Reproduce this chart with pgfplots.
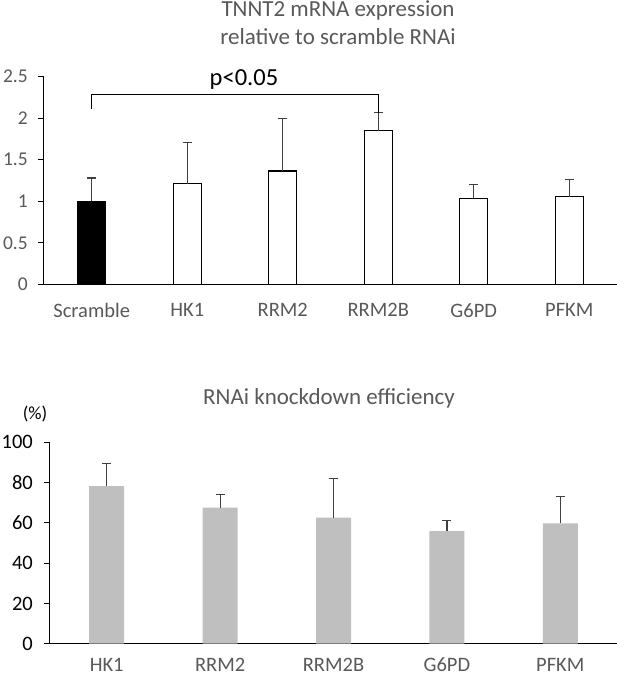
\documentclass[border=0pt]{standalone}
\usepackage{fontspec}
\setmainfont{Carlito}
\usepackage{pgfplots}
\pgfplotsset{compat=1.18}
\definecolor{tgrey}{HTML}{595959}
\definecolor{egrey}{HTML}{404040}
\definecolor{bgrey}{HTML}{BFBFBF}
\begin{document}
\begin{tikzpicture}[x=1pt,y=1pt]
% ---------- top chart ----------
\begin{axis}[
  at={(44pt,392.7pt)}, anchor=south west,
  scale only axis, width=573pt, height=207.6pt,
  xmin=-0.5, xmax=5.5, ymin=0, ymax=2.5,
  axis x line*=bottom, axis y line*=left,
  x axis line style={black, line width=1.5pt, -},
  y axis line style={black, line width=1pt, -},
  xtick={0,...,5}, xticklabels={Scramble,HK1,RRM2,RRM2B,G6PD,PFKM},
  x tick style={draw=none},
  ytick={0,0.5,1,1.5,2,2.5}, yticklabels={0,0.5,1,1.5,2,2.5},
  y tick style={black, line width=1pt},
  tick align=outside, major tick length=6pt,
  yticklabel style={tgrey, font=\fontsize{19.5}{19.5}\selectfont, inner sep=0pt, anchor=east, xshift=-10pt},
  xticklabel style={tgrey, font=\fontsize{20.5}{20.5}\selectfont, inner sep=0pt, anchor=center, yshift=-20pt},
  /pgf/number format/assume math mode=true,
  clip=false,
]
\addplot[ybar, bar width=28pt, bar shift=0pt, fill=black, draw=black, line width=1.3pt,
  error bars/.cd, y dir=plus, y explicit,
  error bar style={egrey, line width=1.2pt},
  error mark options={rotate=90, mark size=4.5pt, egrey, line width=1.2pt}]
  coordinates {(0,1.00) +- (0,0.28)};
\addplot[ybar, bar width=28pt, bar shift=0pt, fill=white, draw=black, line width=1.3pt,
  error bars/.cd, y dir=plus, y explicit,
  error bar style={egrey, line width=1.2pt},
  error mark options={rotate=90, mark size=4.5pt, egrey, line width=1.2pt}]
  coordinates {(1,1.21) +- (0,0.50) (2,1.365) +- (0,0.635) (3,1.85) +- (0,0.22) (4,1.035) +- (0,0.165) (5,1.055) +- (0,0.205)};
\draw[black, line width=1pt] (axis cs:0,2.11) -- (axis cs:0,2.28) -- (axis cs:3,2.28) -- (axis cs:3,2.06);
\node[black, font=\fontsize{24.5}{24.5}\selectfont] at (axis cs:1.594,2.47) {p<0.05};
\end{axis}
% ---------- bottom chart ----------
\begin{axis}[
  at={(50pt,33.3pt)}, anchor=south west,
  scale only axis, width=567pt, height=201.4pt,
  xmin=-0.5, xmax=4.5, ymin=0, ymax=100,
  axis x line*=bottom, axis y line*=left,
  x axis line style={black, line width=1.5pt, -},
  y axis line style={black, line width=1pt, -},
  xtick={0,...,4}, xticklabels={HK1,RRM2,RRM2B,G6PD,PFKM},
  x tick style={draw=none},
  ytick={0,20,40,60,80,100},
  y tick style={black, line width=1pt},
  tick align=outside, major tick length=6pt,
  yticklabel style={black, font=\fontsize{20.5}{20.5}\selectfont, inner sep=0pt, anchor=east, xshift=-11pt},
  xticklabel style={tgrey, font=\fontsize{20.5}{20.5}\selectfont, inner sep=0pt, anchor=center, yshift=-15pt},
  /pgf/number format/assume math mode=true,
  clip=false,
]
\addplot[ybar, bar width=35pt, bar shift=0pt, fill=bgrey, draw=none,
  error bars/.cd, y dir=plus, y explicit,
  error bar style={egrey, line width=1.2pt},
  error mark options={rotate=90, mark size=4.5pt, egrey, line width=1.2pt}]
  coordinates {(0,78.3) +- (0,11.2) (1,67.6) +- (0,6.4) (2,62.6) +- (0,19.6) (3,55.9) +- (0,5.4) (4,59.8) +- (0,13.2)};
\end{axis}
% ---------- titles ----------
\node[tgrey, font=\fontsize{23}{23}\selectfont] at (338,667) {TNNT2 mRNA expression};
\node[tgrey, font=\fontsize{23}{23}\selectfont] at (338,640) {relative to scramble RNAi};
\node[tgrey, font=\fontsize{23}{23}\selectfont] at (329,279) {RNAi knockdown efficiency};
\node[black, font=\fontsize{18.5}{18.5}\selectfont] at (35,263) {(\%)};
\pgfresetboundingbox
\path (0,0) rectangle (617,677);
\end{tikzpicture}
\end{document}
